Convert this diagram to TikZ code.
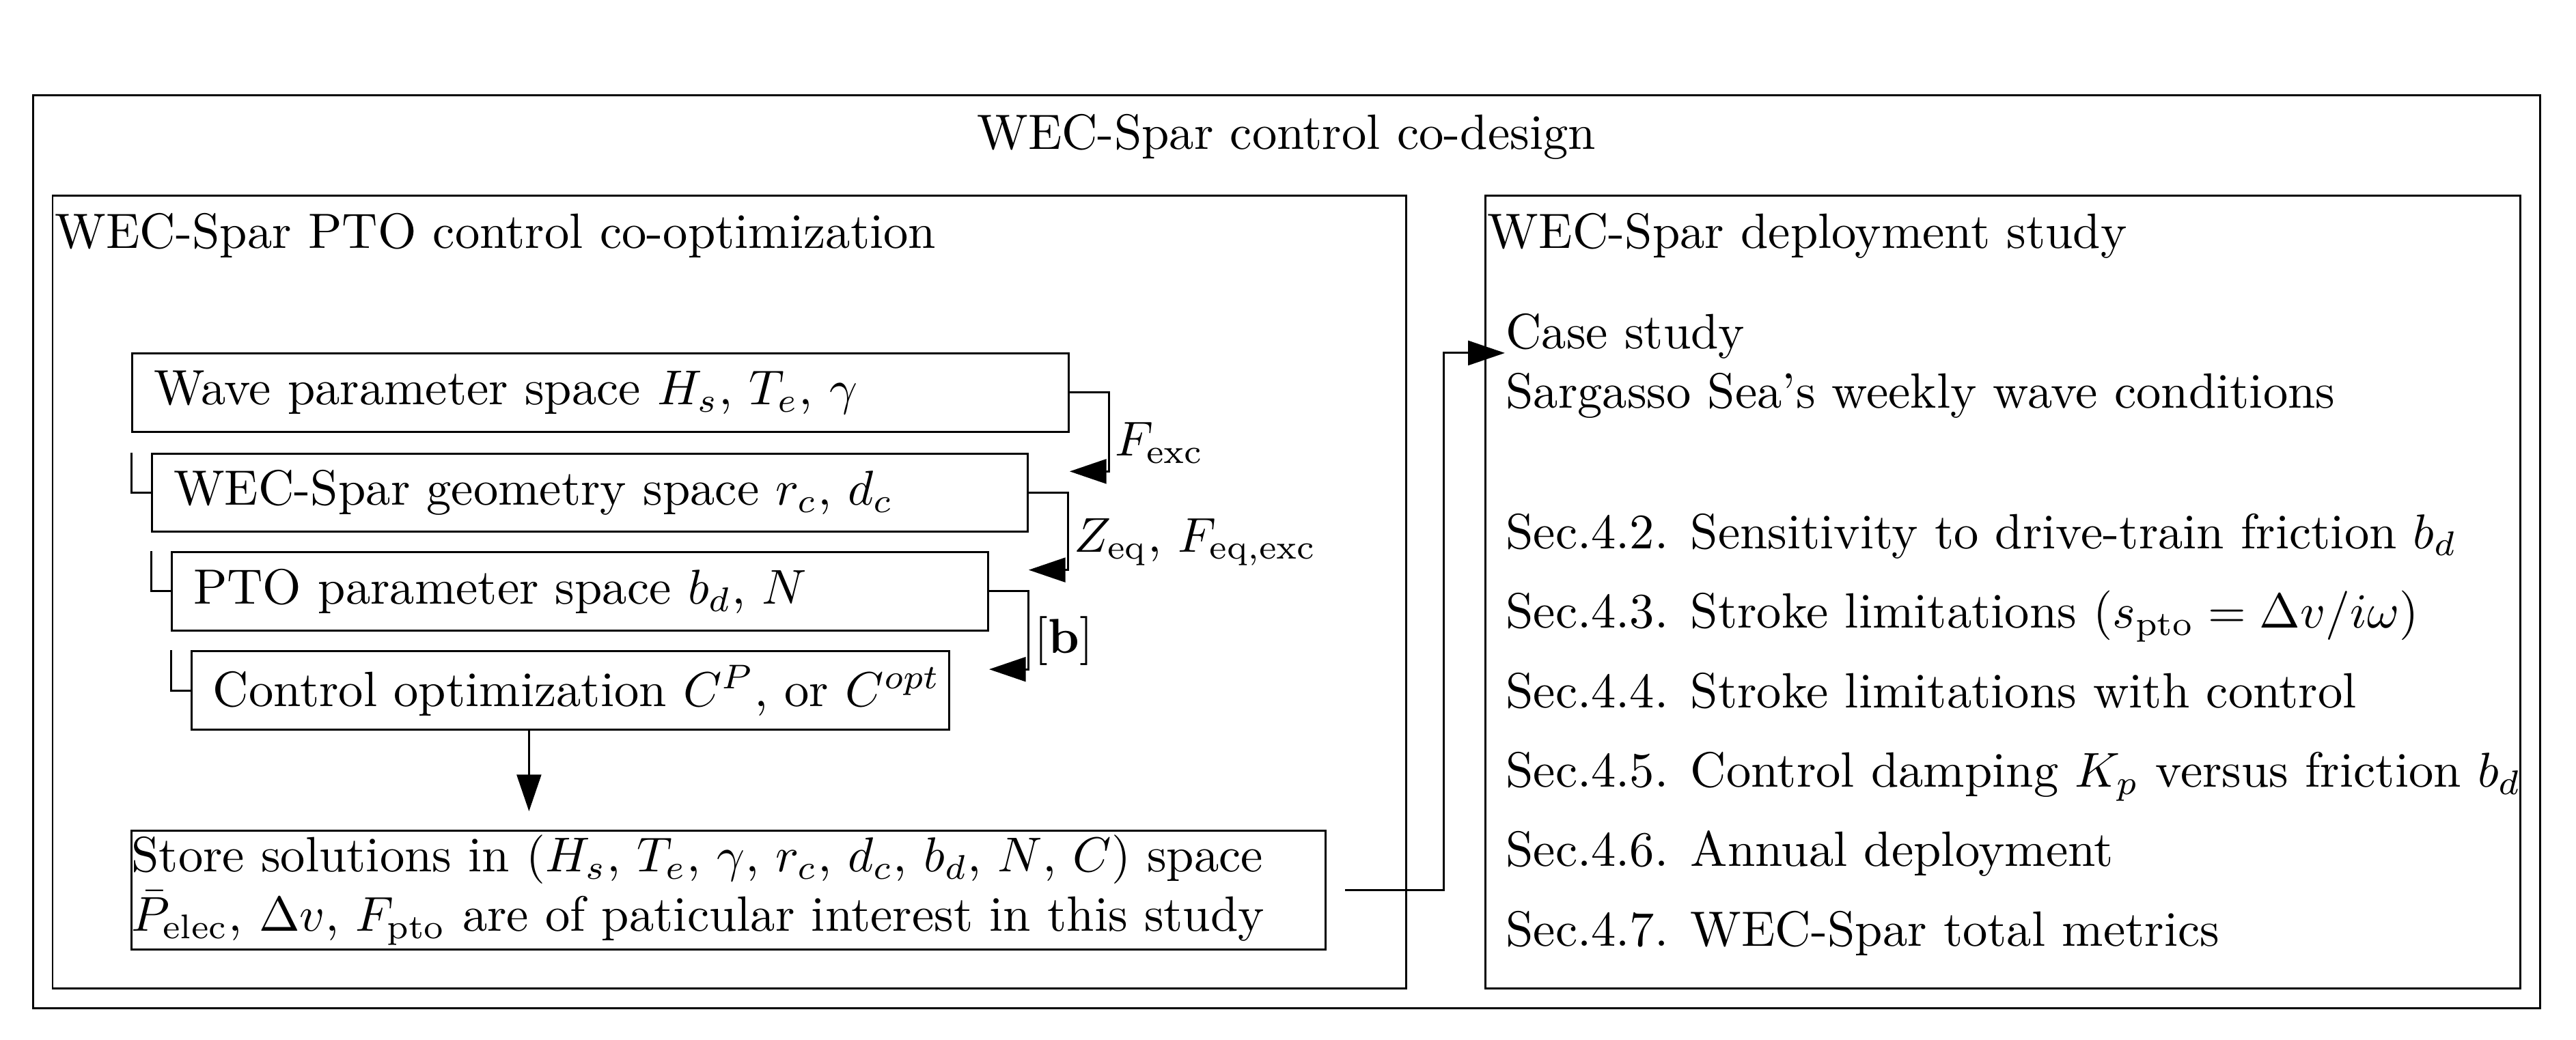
\documentclass[tikz,border=0pt]{standalone}
\usepackage{amsmath,amssymb}
\usepackage{tikz}
\usetikzlibrary{arrows.meta,calc}
\tikzset{
  every node/.append style={font=\fontsize{10.13pt}{12.16pt}\selectfont},
  arr/.style={-{Triangle[length=7.5pt,width=5pt]}},
  stage/.style={draw,anchor=west,inner xsep=4.4pt,inner ysep=0pt,minimum height=16pt,align=left},
  lab/.style={pos=0.32,anchor=west,inner sep=1pt},
  sec/.style={anchor=base west,inner sep=0pt}
}

\begin{document}
\begin{tikzpicture}[x=0.3355pt,y=-0.3355pt]
\useasboundingbox (0,0) rectangle (1568,633);
% panels
\draw (20,58) rectangle (1546,614);
\node[anchor=base] (title) at (783,90.7) {WEC-Spar control co-design};
\draw (32,119) rectangle (856,602);
\node[anchor=base west,inner sep=0pt] (opttitle) at (33,151) {WEC-Spar PTO control co-optimization};
\draw (904,119) rectangle (1534,602);
\node[anchor=base west,inner sep=0pt] (deptitle) at (905,151) {WEC-Spar deployment study};
% nested parameter spaces
\foreach \name/\xx/\yy/\tw/\txt in {
  wave/80/239/182.4/{Wave parameter space $H_s$, $T_e$, $\gamma$},
  geom/92/300/170.0/{WEC-Spar geometry space $r_c$, $d_c$},
  pto/104/360/157.9/{PTO parameter space $b_d$, $N$},
  ctrl/116/420.5/145.9/{Control optimization $C^P$, or $C^{opt}$}}{
  \node[stage,text width=\tw pt] (\name) at (\xx,\yy) {\mbox{\txt}};
}
\foreach \src/\dst/\lab in {
  wave/geom/{$F_{\mathrm{exc}}$},
  geom/pto/{$Z_{\mathrm{eq}}$, $F_{\mathrm{eq,exc}}$},
  pto/ctrl/{$[\mathbf{b}]$}}{
  \draw[arr] (\src.east) -- ++(24,0) |- node[lab] {\lab} ($(\dst.north -| \src.east)+(0,11.5)$);
  \draw (\src.west |- \dst.north) |- (\dst.west);
}
% results
\node[draw,inner xsep=0pt,inner ysep=0pt,outer sep=4pt,text width=243.9pt,minimum height=24.2pt,align=left] (store) at (443.5,542)
  {Store solutions in $(H_s$, $T_e$, $\gamma$, $r_c$, $d_c$, $b_d$, $N$, $C)$ space\\
   $\bar{P}_{\mathrm{elec}}$, $\Delta v$, $F_{\mathrm{pto}}$ are of paticular interest in this study};
\coordinate (cdown) at (322,444);
\draw[arr] (cdown) -- (cdown |- store.north);
% deployment study
\node[anchor=west,inner sep=0pt,align=left] (case) at (916,223)
  {Case study\\Sargasso Sea's weekly wave conditions};
\draw[arr] (store.east) -- ++(60,0) |- ([yshift=2.7pt]case.west);
\foreach \i/\txt in {
  0/{Sec.4.2. Sensitivity to drive-train friction $b_d$},
  1/{Sec.4.3. Stroke limitations ($s_{\mathrm{pto}}=\Delta v/i\omega$)},
  2/{Sec.4.4. Stroke limitations with control},
  3/{Sec.4.5. Control damping $K_p$ versus friction $b_d$},
  4/{Sec.4.6. Annual deployment},
  5/{Sec.4.7. WEC-Spar total metrics}}{
  \node[sec] (sec\i) at (916,334+48.4*\i) {\txt};
}
\end{tikzpicture}
\end{document}
